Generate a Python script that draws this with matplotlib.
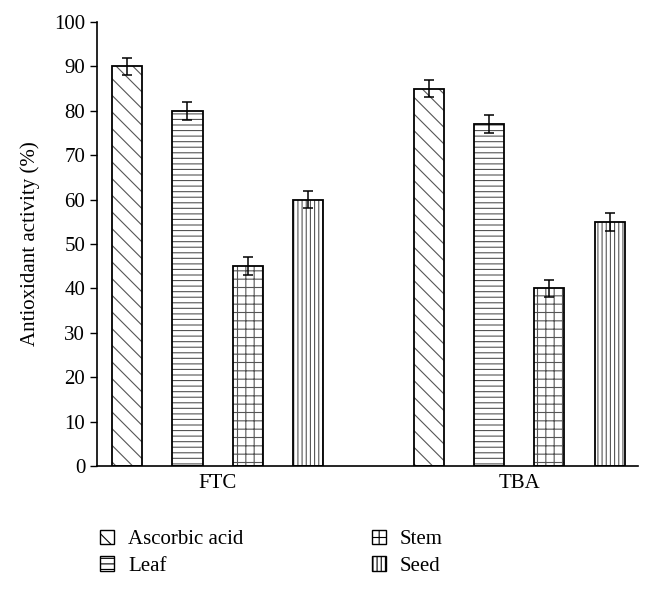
import numpy as np
import matplotlib.pyplot as plt
from matplotlib.patches import Patch

plt.rcParams["font.family"] = ["Liberation Serif", "DejaVu Serif"]
plt.rcParams["hatch.linewidth"] = 0.8

groups = ["FTC", "TBA"]
samples = ["Ascorbic acid", "Leaf", "Stem", "Seed"]
ftc = [90, 80, 45, 60]
tba = [85, 77, 40, 55]
ftc_err = [2, 2, 2, 2]
tba_err = [2, 2, 2, 2]

hatches = ["\\\\", "---", "++", "||||"]

fig = plt.figure(figsize=(6.53, 5.91), dpi=100)
ax = fig.add_axes([0.1485, 0.2115, 0.8285, 0.7513])

group_pos = np.array([0.0, 5.0])
width = 0.5
values = np.array([ftc, tba])
errs = np.array([ftc_err, tba_err])

for i, name in enumerate(samples):
    x = group_pos + i
    # hatch in gray, then black outline on top
    ax.bar(x, values[:, i], width, fill=False, hatch=hatches[i],
           edgecolor="#555555", linewidth=0)
    ax.bar(x, values[:, i], width, fill=False, edgecolor="black", linewidth=1.3)
    ax.errorbar(x, values[:, i], yerr=errs[:, i], fmt="none", ecolor="black",
                elinewidth=1.1, capsize=3.8, capthick=1.1)

ax.set_xlim(-0.5, 8.47)
ax.set_ylim(0, 100)
ax.set_yticks(range(0, 101, 10))
ax.set_xticks(group_pos + 1.5)
ax.set_xticklabels(groups)
ax.tick_params(axis="x", length=0, labelsize=15, pad=6)
ax.tick_params(axis="y", direction="out", length=5, width=1, labelsize=15)
ax.spines["top"].set_visible(False)
ax.spines["right"].set_visible(False)
ax.spines["left"].set_linewidth(1.2)
ax.spines["bottom"].set_linewidth(1.2)
ax.set_ylabel("Antioxidant activity (%)", fontsize=15, labelpad=10)

handles = [Patch(facecolor="white", edgecolor="black", hatch=h, linewidth=1)
           for h in hatches]
fig.legend(handles, samples, loc="upper left", bbox_to_anchor=(0.153, 0.104),
           ncol=2, frameon=False, fontsize=15, handlelength=0.7,
           handleheight=0.7, handletextpad=0.65, columnspacing=6.15,
           labelspacing=0.35, borderpad=0, borderaxespad=0)

fig.savefig("out.png", dpi=100)
